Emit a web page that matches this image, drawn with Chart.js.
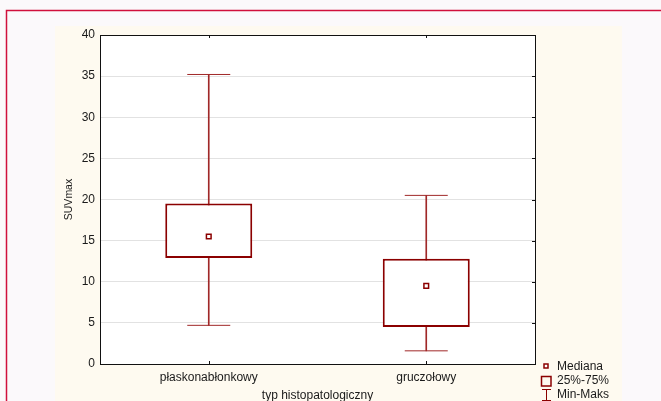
<!DOCTYPE html>
<html>
<head>
<meta charset="utf-8">
<script src="https://cdn.jsdelivr.net/npm/chart.js@4/dist/chart.umd.min.js"></script>
<style>
html,body{margin:0;padding:0;overflow:hidden;background:#fbf9fb;}
#wrap{position:absolute;left:0;top:0;width:661px;height:404px;}
</style>
</head>
<body>
<div id="wrap"><canvas id="c" width="661" height="404"></canvas></div>
<script>
const categories = ['płaskonabłonkowy', 'gruczołowy'];
const minVals = [4.7, 1.6];
const q1Vals = [12.9, 4.5];
const medianVals = [15.5, 9.5];
const q3Vals = [19.5, 12.8];
const maxVals = [35.2, 20.5];
const yTicks = [0, 5, 10, 15, 20, 25, 30, 35, 40];
const yTitle = 'SUVmax';
const xTitle = 'typ histopatologiczny';
const legendLabels = ['Mediana', '25%-75%', 'Min-Maks'];

const RED = '#8b0000';
const FONT = "'Liberation Sans', Arial, sans-serif";

const frame = {
  id: 'frame',
  beforeDraw(chart) {
    const ctx = chart.ctx;
    ctx.save();
    ctx.fillStyle = '#fbf9fb';
    ctx.fillRect(0, 0, chart.width, chart.height);
    ctx.fillStyle = '#fefaf0';
    ctx.fillRect(55, 26, 567, chart.height - 26);
    ctx.fillStyle = '#ffffff';
    const a = chart.chartArea;
    ctx.fillRect(a.left, a.top, a.right - a.left, a.bottom - a.top);
    ctx.strokeStyle = '#d0103c';
    ctx.lineWidth = 1.5;
    ctx.beginPath();
    ctx.moveTo(6.5, chart.height);
    ctx.lineTo(6.5, 10.5);
    ctx.lineTo(chart.width, 10.5);
    ctx.stroke();
    ctx.restore();
  },
  afterDatasetsDraw(chart) {
    const ctx = chart.ctx;
    const a = chart.chartArea;
    const xs = chart.scales.x, ys = chart.scales.y;
    ctx.save();
    ctx.strokeStyle = '#111';
    ctx.lineWidth = 1;
    ctx.strokeRect(Math.round(a.left) + 0.5, Math.round(a.top) + 0.5,
      Math.round(a.right - a.left), Math.round(a.bottom - a.top));
    ctx.beginPath();
    categories.forEach((c, i) => {
      const x = Math.round(xs.getPixelForValue(i)) + 0.5;
      ctx.moveTo(x, a.top); ctx.lineTo(x, a.top + 3);
      ctx.moveTo(x, a.bottom); ctx.lineTo(x, a.bottom - 3);
    });
    yTicks.forEach(v => {
      const y = Math.round(ys.getPixelForValue(v)) + 0.5;
      ctx.moveTo(a.right, y); ctx.lineTo(a.right - 3, y);
    });
    ctx.stroke();

    // legend
    ctx.strokeStyle = RED;
    ctx.fillStyle = '#fff';
    ctx.lineWidth = 1.5;
    ctx.fillRect(544, 364, 4, 4);
    ctx.strokeRect(544, 364, 4, 4);
    ctx.strokeRect(541.5, 376.5, 9.5, 9.5);
    ctx.lineWidth = 1;
    ctx.beginPath();
    ctx.moveTo(542, 389.5); ctx.lineTo(551, 389.5);
    ctx.moveTo(546.5, 389.5); ctx.lineTo(546.5, 401);
    ctx.moveTo(542, 400.5); ctx.lineTo(551, 400.5);
    ctx.stroke();
    ctx.fillStyle = '#1a1a1a';
    ctx.font = '12px ' + FONT;
    ctx.textBaseline = 'middle';
    ctx.textAlign = 'left';
    ctx.fillText(legendLabels[0], 557, 367);
    ctx.fillText(legendLabels[1], 557, 381);
    ctx.fillText(legendLabels[2], 557, 395);
    ctx.restore();
  }
};

const boxData = categories.map((c, i) => [q1Vals[i], q3Vals[i]]);
const whiskerData = categories.map((c, i) => [minVals[i], maxVals[i]]);
const capData = [];
categories.forEach((c, i) => {
  capData.push({x: c, y: minVals[i]});
  capData.push({x: c, y: maxVals[i]});
});
const medData = categories.map((c, i) => ({x: c, y: medianVals[i]}));

new Chart(document.getElementById('c'), {
  data: {
    labels: categories,
    datasets: [
      {type: 'line', label: 'Mediana', data: medData, showLine: false, order: 0,
        pointStyle: 'rect', pointRadius: 3.3, pointHoverRadius: 3.3,
        pointBackgroundColor: '#fff', pointBorderColor: RED, pointBorderWidth: 1.5},
      {type: 'line', label: 'caps', data: capData, showLine: false, order: 0,
        pointStyle: 'line', pointRadius: 21.5, pointHoverRadius: 21.5,
        pointBorderColor: '#a02828', pointBorderWidth: 1},
      {type: 'bar', label: '25%-75%', data: boxData, order: 1, grouped: false,
        barPercentage: 0.4, categoryPercentage: 1,
        backgroundColor: '#fff', borderColor: RED, borderWidth: 2, borderSkipped: false},
      {type: 'bar', label: 'Min-Maks', data: whiskerData, order: 2, grouped: false,
        barThickness: 1, backgroundColor: '#a02828', borderWidth: 0}
    ]
  },
  options: {
    responsive: false,
    animation: false,
    events: [],
    layout: {padding: {left: 55, top: 35, right: 126, bottom: 0}},
    plugins: {legend: {display: false}, tooltip: {enabled: false}},
    scales: {
      x: {
        type: 'category',
        offset: true,
        grid: {display: false, drawTicks: false},
        border: {display: true, color: '#111', width: 1},
        ticks: {padding: 6, color: '#1a1a1a', font: {family: FONT, size: 12}, maxRotation: 0},
        title: {display: true, text: xTitle, color: '#1a1a1a', font: {family: FONT, size: 12}, padding: {top: 4, bottom: 1}},
        afterFit(s) { s.height = 40; }
      },
      y: {
        type: 'linear',
        min: 0, max: 40,
        afterBuildTicks(s) { s.ticks = yTicks.map(v => ({value: v})); },
        grid: {color: '#e2e2e2', lineWidth: 1, drawTicks: false},
        border: {display: true, color: '#111', width: 1},
        ticks: {padding: 5, color: '#1a1a1a', font: {family: FONT, size: 12}},
        title: {display: true, text: yTitle, color: '#1a1a1a', font: {family: FONT, size: 10.5}, padding: {top: 8, bottom: 4}},
        afterFit(s) { s.width = 45; }
      }
    }
  },
  plugins: [frame]
});
</script>
</body>
</html>
